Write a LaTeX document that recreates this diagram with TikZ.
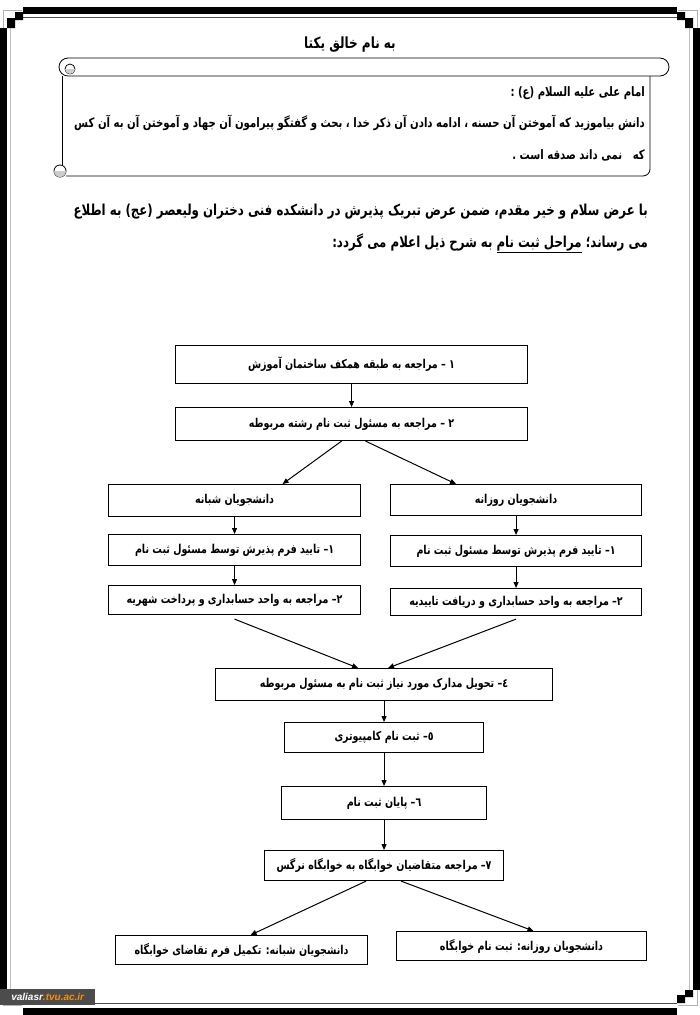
\documentclass[tikz,border=0pt]{standalone}
\usepackage{fontspec}
\TeXXeTstate=1
\newfontfamily\fa[Script=Arabic, FakeStretch=0.78]{DejaVu Sans}
\newfontfamily\wmfont{Liberation Sans}
\usetikzlibrary{arrows.meta}
\newcommand\RL[1]{\beginR #1\endR}
\tikzset{
  box/.style={draw=black, line width=1.1pt, fill=white, inner sep=0pt, anchor=north west,
    font=\fa\bfseries\fontsize{12.2}{14}\selectfont},
  arr/.style={-{Triangle[length=6pt,width=5pt]}, line width=1pt},
  para/.style={font=\fa\bfseries\fontsize{15.1}{17}\selectfont, inner sep=0pt, anchor=east},
  quote/.style={font=\fa\bfseries\fontsize{13}{15}\selectfont, inner sep=0pt, anchor=east},
}
\begin{document}
\begin{tikzpicture}[x=1pt,y=-1pt]
\useasboundingbox (0,0) rectangle (700,1015);
% frame
\fill[white] (0,0) rectangle (700,1015);
\draw[gray!60, line width=0.8pt] (3,28) -- (3,10) -- (22,10);
\draw[gray!60, line width=0.8pt] (697,28) -- (697,10) -- (678,10);
\draw[gray!60, line width=0.8pt] (3,990) -- (3,1005) -- (22,1005);
\draw[gray!60, line width=0.8pt] (697,990) -- (697,1005) -- (678,1005);
\fill[black] (23,7) rectangle (677,14);
\fill[black] (23,1008) rectangle (677,1015);
\fill[black] (0,28) rectangle (7,990);
\fill[black] (693,28) rectangle (700,990);
\fill[black] (15,12) rectangle (23,20) (7,18) rectangle (15,28);
\fill[black] (677,12) rectangle (685,20) (685,18) rectangle (693,28);
\fill[black] (15,995) rectangle (23,1003) (7,990) rectangle (15,997);
\fill[black] (677,995) rectangle (685,1003) (685,990) rectangle (693,997);
\draw[black!70, line width=1.2pt] (23,17.5) -- (677,17.5);
\draw[black!70, line width=1.2pt] (23,1003.5) -- (677,1003.5);
\draw[gray!50, line width=1pt] (10,28) -- (10,990);
\draw[gray!50, line width=1pt] (689,28) -- (689,990);
% title
\node[font=\fa\bfseries\fontsize{15.4}{17}\selectfont, inner sep=0pt] (title) at (350,45) {\RL{به نام خالق یکتا}};
% scroll
\begin{scope}[line width=0.8pt]
\draw (68,58) -- (660,58) arc[start angle=-90,end angle=90,radius=9] -- (68,76);
\draw (68,58) arc[start angle=-90,end angle=-270,radius=9];
\draw (70,69) circle[radius=5];
\fill[gray!40] (65,69) arc[start angle=180,end angle=0,radius=5] -- cycle;
\draw (62,76) -- (62,166);
\draw[rounded corners=7pt] (66,176) -- (650,176) -- (650,76);
\draw (60,171) circle[radius=6];
\fill[gray!40] (54,171) arc[start angle=180,end angle=0,radius=6] -- cycle;
\end{scope}
\node[quote] (q1) at (645,93) {\RL{امام علی علیه السلام (ع) :}};
\node[quote] (q2) at (645,123) {\RL{دانش بیاموزید که آموختن آن حسنه ، ادامه دادن آن ذکر خدا ، بحث و گفتگو پیرامون آن جهاد و آموختن آن به آن کس}};
\node[quote] (q3) at (645,155) {\RL{که \ \ نمی داند صدقه است .}};
% paragraph
\node[para] (p1) at (648,212) {\RL{با عرض سلام و خیر مقدم، ضمن عرض تبریک پذیرش در دانشکده فنی دختران ولیعصر (عج) به اطلاع}};
\node[para] (p2) at (648,243) {\RL{می رساند؛ \underline{\RL{مراحل ثبت نام}} به شرح ذیل اعلام می گردد:}};
% flowchart
\node[box, minimum width=352pt, minimum height=38pt] (b1) at (175,345) {\RL{۱ – مراجعه به طبقه همکف ساختمان آموزش}};
\node[box, minimum width=352pt, minimum height=33pt] (b2) at (175,407) {\RL{۲ – مراجعه به مسئول ثبت نام رشته مربوطه}};
\node[box, minimum width=252pt, minimum height=32pt] (b3l) at (108,484) {\RL{دانشجویان شبانه}};
\node[box, minimum width=251pt, minimum height=31pt] (b3r) at (390,484) {\RL{دانشجویان روزانه}};
\node[box, minimum width=252pt, minimum height=31pt] (b4l) at (108,534) {\RL{۱– تایید فرم پذیرش توسط مسئول ثبت نام}};
\node[box, minimum width=251pt, minimum height=31pt] (b4r) at (390,535) {\RL{۱– تایید فرم پذیرش توسط مسئول ثبت نام}};
\node[box, minimum width=252pt, minimum height=29pt] (b5l) at (108,585) {\RL{۲– مراجعه به واحد حسابداری و پرداخت شهریه}};
\node[box, minimum width=251pt, minimum height=27pt] (b5r) at (390,588) {\RL{۲– مراجعه به واحد حسابداری و دریافت تاییدیه}};
\node[box, minimum width=337pt, minimum height=32pt] (b6) at (215,668) {\RL{٤– تحویل مدارک مورد نیاز ثبت نام به مسئول مربوطه}};
\node[box, minimum width=199pt, minimum height=30pt] (b7) at (284,722) {\RL{٥– ثبت نام کامپیوتری}};
\node[box, minimum width=205pt, minimum height=33pt] (b8) at (281,786) {\RL{٦– پایان ثبت نام}};
\node[box, minimum width=239pt, minimum height=30pt] (b9) at (264,850) {\RL{۷– مراجعه متقاضیان خوابگاه به خوابگاه نرگس}};
\node[box, minimum width=252pt, minimum height=29pt] (b10l) at (115,935) {\RL{دانشجویان شبانه: تکمیل فرم تقاضای خوابگاه}};
\node[box, minimum width=250pt, minimum height=29pt] (b10r) at (396,931) {\RL{دانشجویان روزانه: ثبت نام خوابگاه}};
\draw[arr] (b1.south) -- (b2.north);
\draw[arr] ([xshift=-10pt]b2.south) -- ([xshift=48pt]b3l.north);
\draw[arr] ([xshift=14pt]b2.south) -- ([xshift=-60pt]b3r.north);
\draw[arr] (b3l.south) -- (b4l.north);
\draw[arr] (b3r.south) -- (b4r.north);
\draw[arr] (b4l.south) -- (b5l.north);
\draw[arr] (b4r.south) -- (b5r.north);
\draw[arr] ([yshift=-4pt]b5l.south) -- ([xshift=-26pt]b6.north);
\draw[arr] ([yshift=-3pt]b5r.south) -- ([xshift=4pt]b6.north);
\draw[arr] (b6.south) -- (b7.north);
\draw[arr] (b7.south) -- (b8.north);
\draw[arr] (b8.south) -- (b9.north);
\draw[arr] ([xshift=-18pt]b9.south) -- ([xshift=9pt]b10l.north);
\draw[arr] ([xshift=17pt]b9.south) -- ([xshift=12pt]b10r.north);
% watermark
\node[fill=black!70, inner sep=0pt, anchor=south west, minimum width=95pt, minimum height=16pt,
  font=\wmfont\bfseries\itshape\fontsize{10}{11}\selectfont] (wm) at (0,1005)
  {\textcolor{white}{valiasr}\textcolor{orange!90!yellow}{.tvu.ac.ir}};
\end{tikzpicture}
\end{document}
